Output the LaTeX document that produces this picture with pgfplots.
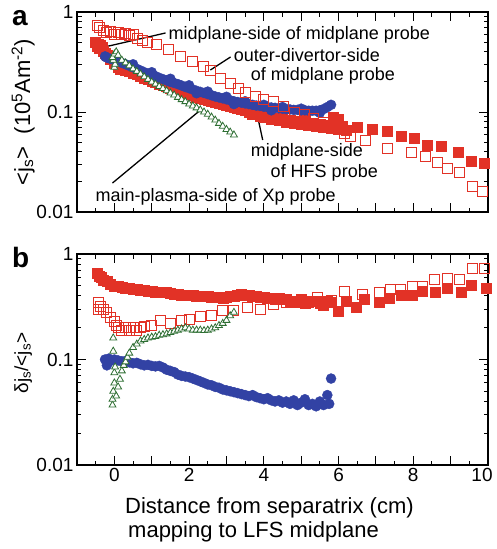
\documentclass[border=0pt]{standalone}
\usepackage{pgfplots}
\pgfplotsset{compat=1.18}
\usepackage{fontspec}
\setmainfont{Liberation Sans}
\definecolor{pred}{RGB}{226,50,38}
\definecolor{pblue}{RGB}{50,66,164}
\definecolor{pgreen}{RGB}{45,110,50}

\pgfplotsset{
  rf/.style={only marks, mark=square*, mark size=5pt, color=pred, mark options={draw=pred, fill=pred}},
  ro/.style={only marks, mark=square, mark size=5pt, color=pred, mark options={draw=pred, line width=1pt}},
  bc/.style={only marks, mark=*, mark size=5pt, color=pblue, mark options={draw=pblue, fill=pblue}},
  gt/.style={only marks, mark=triangle*, mark size=4pt, color=pgreen, mark options={draw=pgreen, fill=white, line width=0.8pt}},
}
\tikzset{ann/.style={font=\fontsize{18}{20}\selectfont, anchor=west, inner sep=0pt},
  tk/.style={black, line width=1pt}}

% inward ticks on all four sides of a panel
\newcommand\frameticks{%
  \pgfplotsinvokeforeach{-1,0,1,2,3,4,5,6,7,8,9,10}{%
    \draw[tk] (axis cs:##1,0.01) -- ++(0pt,9pt);
    \draw[tk] (axis cs:##1,1) -- ++(0pt,-9pt);}%
  \pgfplotsinvokeforeach{-0.5,0.5,1.5,2.5,3.5,4.5,5.5,6.5,7.5,8.5,9.5}{%
    \draw[tk] (axis cs:##1,0.01) -- ++(0pt,4.5pt);
    \draw[tk] (axis cs:##1,1) -- ++(0pt,-4.5pt);}%
  \pgfplotsinvokeforeach{0.01,0.1,1}{%
    \draw[tk] (axis cs:-1,##1) -- ++(9pt,0pt);
    \draw[tk] (axis cs:10,##1) -- ++(-9pt,0pt);}%
  \pgfplotsinvokeforeach{0.02,0.03,0.04,0.05,0.06,0.07,0.08,0.09,0.2,0.3,0.4,0.5,0.6,0.7,0.8,0.9}{%
    \draw[tk] (axis cs:-1,##1) -- ++(4.5pt,0pt);
    \draw[tk] (axis cs:10,##1) -- ++(-4.5pt,0pt);}%
}

\begin{document}
\begin{tikzpicture}
\path[use as bounding box] (0pt,0pt) rectangle (496pt,-549pt);

% panel a
\begin{axis}[scale only axis, width=411pt, height=200pt,
  at={(77pt,-12pt)}, anchor=north west,
  xmin=-1, xmax=10, ymode=log, ymin=0.01, ymax=1,
  xtick={-1,0,...,10}, minor x tick num=1,
  ytick={0.01,0.1,1}, yticklabels={0.01,0.1,1},
  tick align=inside, xtick pos=both, ytick pos=both,
  tickwidth=9pt, subtickwidth=4.5pt,
  axis line style={line width=1.3pt},
  tick style={draw=black, line width=1pt},
  tick label style={font=\fontsize{19}{23}\selectfont},
  /pgf/number format/assume math mode=true,
  xticklabels={},
  label style={font=\fontsize{22}{26}\selectfont},
  ylabel style={at={(axis description cs:-0.131,0.5)}, anchor=center},
  ylabel={<j\textsubscript{s}>~~(10\textsuperscript{5}Am\textsuperscript{-2})}]
\addplot[rf] coordinates {
(-0.5,0.50) (-0.47,0.45) (-0.44,0.48) (-0.4,0.43) (-0.37,0.47) (-0.33,0.44) (-0.3,0.41)
(-0.25,0.39) (-0.2,0.37) (-0.1,0.34) (0,0.31) (0.1,0.28) (0.15,0.27) (0.2,0.275) (0.3,0.26)
(0.4,0.255) (0.5,0.245) (0.6,0.237) (0.7,0.228) (0.8,0.22) (0.9,0.212) (1.0,0.205) (1.1,0.198)
(1.2,0.19) (1.3,0.185) (1.4,0.18) (1.5,0.175) (1.6,0.17) (1.7,0.165) (1.8,0.16) (1.9,0.155)
(2.0,0.15) (2.1,0.146) (2.2,0.142) (2.3,0.138) (2.4,0.135) (2.5,0.132) (2.6,0.128) (2.7,0.125)
(2.8,0.122) (2.9,0.119) (3.0,0.117) (3.1,0.114) (3.2,0.111) (3.3,0.108) (3.4,0.106) (3.5,0.104)
(3.6,0.099) (3.7,0.094) (3.8,0.097) (3.9,0.09) (4.0,0.088) (4.1,0.091) (4.2,0.085) (4.3,0.087)
(4.4,0.082) (4.5,0.086) (4.6,0.079) (4.7,0.083) (4.8,0.077) (4.9,0.08) (5.0,0.075) (5.1,0.082)
(5.2,0.074) (5.3,0.078) (5.4,0.072) (5.5,0.076) (5.6,0.07) (5.7,0.074) (5.8,0.069) (5.85,0.088)
(5.9,0.075) (6.0,0.068) (6.0,0.085) (6.1,0.072) (6.2,0.066) (6.5,0.071) (6.91,0.068) (7.31,0.064)
(7.67,0.057) (8.02,0.055) (8.38,0.047) (8.74,0.045) (9.19,0.040) (9.54,0.032) (9.9,0.031)
};
\addplot[bc] coordinates {
(-0.25,0.36) (-0.2,0.35) (-0.1,0.34) (0,0.33) (0.1,0.32) (0.2,0.31) (0.3,0.30) (0.4,0.29)
(0.5,0.28) (0.6,0.27) (0.7,0.26) (0.8,0.25) (0.9,0.24) (1.0,0.235) (1.1,0.228) (1.2,0.22)
(1.3,0.213) (1.4,0.207) (1.5,0.2) (1.6,0.195) (1.7,0.19) (1.8,0.184) (1.9,0.178) (2.0,0.173)
(2.1,0.168) (2.2,0.163) (2.3,0.159) (2.4,0.155) (2.5,0.151) (2.6,0.147) (2.7,0.143) (2.8,0.14)
(2.9,0.137) (3.0,0.134) (3.1,0.131) (3.2,0.128) (3.3,0.126) (3.4,0.124) (3.5,0.122) (3.6,0.12)
(3.7,0.118) (3.8,0.116) (3.9,0.115) (4.0,0.113) (4.1,0.112) (4.2,0.111) (4.3,0.11) (4.4,0.109)
(4.5,0.108) (4.6,0.107) (4.7,0.106) (4.8,0.105) (4.9,0.105) (5.0,0.104) (5.1,0.104) (5.2,0.103)
(5.3,0.103) (5.4,0.103) (5.5,0.104) (5.6,0.107) (5.7,0.112) (5.8,0.118)
(0.5,0.3) (1.0,0.25) (1.5,0.215) (2.0,0.185) (2.5,0.16) (3.0,0.142) (3.5,0.128) (4.0,0.118)
(4.5,0.112) (5.0,0.108) (5.5,0.098) (4.2,0.104) (3.2,0.12) (2.2,0.154)
};
\addplot[ro] coordinates {
(-0.46,0.74) (-0.4,0.7) (-0.3,0.65) (-0.2,0.62) (-0.1,0.635) (0,0.6) (0.1,0.63) (0.2,0.6)
(0.3,0.61) (0.4,0.58) (0.5,0.6) (0.61,0.545) (0.75,0.52) (0.88,0.5) (1.14,0.468) (1.46,0.417)
(1.77,0.357) (2.08,0.318) (2.39,0.284) (2.57,0.263) (2.84,0.217) (3.11,0.193) (3.33,0.172)
(3.51,0.156) (3.78,0.143) (4.0,0.132) (4.27,0.127) (4.54,0.113) (4.81,0.1) (5.08,0.094)
(5.34,0.087) (5.61,0.078) (5.88,0.068) (6.15,0.061) (6.33,0.057) (6.73,0.052) (7.31,0.043)
(7.94,0.039) (8.34,0.036) (8.65,0.031) (8.92,0.027) (9.23,0.025) (9.59,0.018) (9.86,0.016)
};
\addplot[gt] coordinates {
(0,0.28) (0.02,0.3) (-0.03,0.33) (-0.05,0.35) (0,0.38) (0.05,0.40) (0.1,0.37) (0.2,0.33)
(0.3,0.31) (0.4,0.29) (0.5,0.27) (0.6,0.255) (0.7,0.24) (0.8,0.225) (0.9,0.212) (1.0,0.2)
(1.1,0.19) (1.2,0.18) (1.3,0.172) (1.4,0.163) (1.5,0.155) (1.6,0.148) (1.7,0.14) (1.8,0.133)
(1.9,0.127) (2.0,0.12) (2.1,0.115) (2.2,0.11) (2.3,0.105) (2.4,0.1) (2.5,0.095) (2.6,0.089)
(2.7,0.083) (2.8,0.077) (2.9,0.072) (3.0,0.067) (3.1,0.063) (3.2,0.059)
};
\draw[line width=1.3pt] (axis cs:-0.375,0.437) -- (axis cs:1.37,0.617);
\draw[line width=1.3pt] (axis cs:2.57,0.263) -- (axis cs:3.11,0.355);
\draw[line width=1.3pt] (axis cs:3.78,0.112) -- (axis cs:3.97,0.0525);
\draw[line width=1.3pt] (axis cs:2.31,0.105) -- (axis cs:-0.05,0.0195);
\node[ann] at (axis cs:1.45,0.589) {midplane-side of midplane probe};
\node[ann] at (axis cs:3.19,0.37) {outer-divertor-side};
\node[ann] at (axis cs:3.65,0.232) {of midplane probe};
\node[ann] at (axis cs:3.65,0.04) {midplane-side};
\node[ann] at (axis cs:4.18,0.0245) {of HFS probe};
\node[ann] at (axis cs:-0.51,0.0141) {main-plasma-side of Xp probe};
\frameticks
\end{axis}

% panel b
\begin{axis}[scale only axis, width=411pt, height=211pt,
  at={(77pt,-254pt)}, anchor=north west,
  xmin=-1, xmax=10, ymode=log, ymin=0.01, ymax=1,
  xtick={-1,0,...,10}, minor x tick num=1,
  ytick={0.01,0.1,1}, yticklabels={0.01,0.1,1},
  tick align=inside, xtick pos=both, ytick pos=both,
  tickwidth=9pt, subtickwidth=4.5pt,
  axis line style={line width=1.3pt},
  tick style={draw=black, line width=1pt},
  tick label style={font=\fontsize{19}{23}\selectfont},
  /pgf/number format/assume math mode=true,
  xticklabels={,0,,2,,4,,6,,8,,10\rule{12pt}{0pt}},
  label style={font=\fontsize{19}{22}\selectfont},
  ylabel style={at={(axis description cs:-0.131,0.483)}, anchor=center},
  ylabel={δj\textsubscript{s}/<j\textsubscript{s}>}]
\addplot[rf] coordinates {
(-0.45,0.66) (-0.4,0.62) (-0.35,0.6) (-0.3,0.57) (-0.2,0.55) (-0.1,0.52) (0,0.5) (0.1,0.49)
(0.2,0.48) (0.3,0.475) (0.4,0.47) (0.5,0.46) (0.6,0.46) (0.7,0.455) (0.8,0.45) (0.9,0.445)
(1.0,0.44) (1.1,0.435) (1.2,0.43) (1.3,0.43) (1.4,0.43) (1.5,0.425) (1.6,0.42) (1.7,0.415)
(1.8,0.41) (1.9,0.41) (2.0,0.41) (2.1,0.405) (2.2,0.40) (2.3,0.40) (2.4,0.40) (2.5,0.395)
(2.6,0.39) (2.7,0.39) (2.8,0.39) (2.9,0.385) (3.0,0.39) (3.1,0.395) (3.2,0.40) (3.3,0.41)
(3.4,0.42) (3.5,0.41) (3.6,0.41) (3.7,0.40) (3.8,0.40) (3.9,0.39) (4.0,0.39) (4.1,0.38)
(4.2,0.38) (4.3,0.37) (4.4,0.38) (4.5,0.37) (4.6,0.37) (4.7,0.36) (4.8,0.36) (4.9,0.35)
(5.0,0.37) (5.1,0.34) (5.2,0.35) (5.3,0.36) (5.4,0.36) (5.5,0.34) (5.6,0.33) (5.7,0.36)
(5.8,0.35) (6.0,0.29) (6.2,0.36) (6.46,0.31) (6.68,0.37) (7.08,0.35) (7.35,0.38) (7.67,0.41)
(7.98,0.41) (8.25,0.44) (8.6,0.43) (8.92,0.47) (9.28,0.43) (9.54,0.51) (9.95,0.47)
};
\addplot[ro] coordinates {
(-0.42,0.35) (-0.42,0.30) (-0.38,0.32) (-0.3,0.30) (-0.2,0.28) (-0.1,0.25) (0,0.23) (0.05,0.21)
(0.1,0.2) (0.2,0.19) (0.3,0.2) (0.4,0.19) (0.5,0.2) (0.6,0.19) (0.7,0.2) (0.8,0.205)
(1.0,0.21) (1.23,0.236) (1.5,0.22) (1.8,0.235) (2.0,0.24) (2.3,0.255) (2.6,0.26) (2.9,0.29)
(3.2,0.29) (3.56,0.31) (3.9,0.3) (4.27,0.33) (4.6,0.35) (5.0,0.37) (5.43,0.39) (5.8,0.36)
(6.15,0.44) (6.65,0.41) (7.09,0.43) (7.4,0.46) (7.67,0.46) (7.98,0.49) (8.25,0.49) (8.56,0.57)
(8.92,0.59) (9.23,0.57) (9.59,0.73) (9.9,0.73)
};
\addplot[bc] coordinates {
(-0.25,0.1) (-0.2,0.098) (-0.15,0.102) (-0.1,0.097) (-0.2,0.088) (0,0.1) (0.1,0.098) (0.2,0.096)
(0.3,0.097) (0.4,0.094) (0.5,0.092) (0.6,0.093) (0.7,0.09) (0.8,0.088) (0.9,0.089) (1.0,0.087)
(1.1,0.086) (1.2,0.087) (1.3,0.084) (1.4,0.08) (1.5,0.078) (1.6,0.076) (1.7,0.072) (1.8,0.07)
(1.9,0.069) (2.0,0.068) (2.1,0.066) (2.2,0.064) (2.3,0.062) (2.4,0.06) (2.5,0.058) (2.6,0.057)
(2.7,0.055) (2.8,0.054) (2.9,0.052) (3.0,0.051) (3.1,0.05) (3.2,0.049) (3.3,0.048) (3.4,0.047)
(3.5,0.046) (3.6,0.045) (3.7,0.046) (3.8,0.044) (3.9,0.043) (4.0,0.042) (4.1,0.043) (4.2,0.041)
(4.3,0.04) (4.4,0.041) (4.5,0.039) (4.6,0.04) (4.7,0.038) (4.8,0.041) (4.9,0.037) (5.0,0.039)
(5.1,0.042) (5.2,0.037) (5.3,0.038) (5.4,0.036) (5.5,0.04) (5.6,0.037) (5.7,0.046) (5.75,0.038)
(5.8,0.066)
};
\addplot[gt] coordinates {
(-0.05,0.037) (-0.05,0.042) (-0.03,0.05) (0,0.06) (0,0.075) (0.02,0.085) (-0.03,0.12) (-0.03,0.16)
(0.05,0.045) (0.1,0.055) (0.15,0.065) (0.2,0.078) (0.25,0.088) (0.3,0.095) (0.35,0.105) (0.4,0.115)
(0.5,0.13) (0.6,0.14) (0.7,0.15) (0.8,0.155) (0.9,0.16) (1.0,0.163) (1.1,0.165) (1.2,0.17)
(1.3,0.172) (1.4,0.175) (1.5,0.18) (1.6,0.185) (1.7,0.19) (1.8,0.195) (1.9,0.2) (2.0,0.195)
(2.1,0.19) (2.2,0.19) (2.3,0.19) (2.4,0.188) (2.5,0.19) (2.6,0.195) (2.7,0.2) (2.8,0.21)
(2.9,0.22) (3.0,0.235) (3.1,0.26) (3.2,0.28)
};
\frameticks
\end{axis}

\node[font=\fontsize{28}{30}\selectfont\bfseries, anchor=base west, inner sep=0pt] at (12pt,-25pt) {a};
\node[font=\fontsize{28}{30}\selectfont\bfseries, anchor=base west, inner sep=0pt] at (12pt,-267pt) {b};
\node[font=\fontsize{22}{26}\selectfont, anchor=base west, inner sep=0pt] at (125pt,-513pt) {Distance from separatrix (cm)};
\node[font=\fontsize{22}{26}\selectfont, anchor=base west, inner sep=0pt] at (128pt,-537pt) {mapping to LFS midplane};
\end{tikzpicture}
\end{document}
